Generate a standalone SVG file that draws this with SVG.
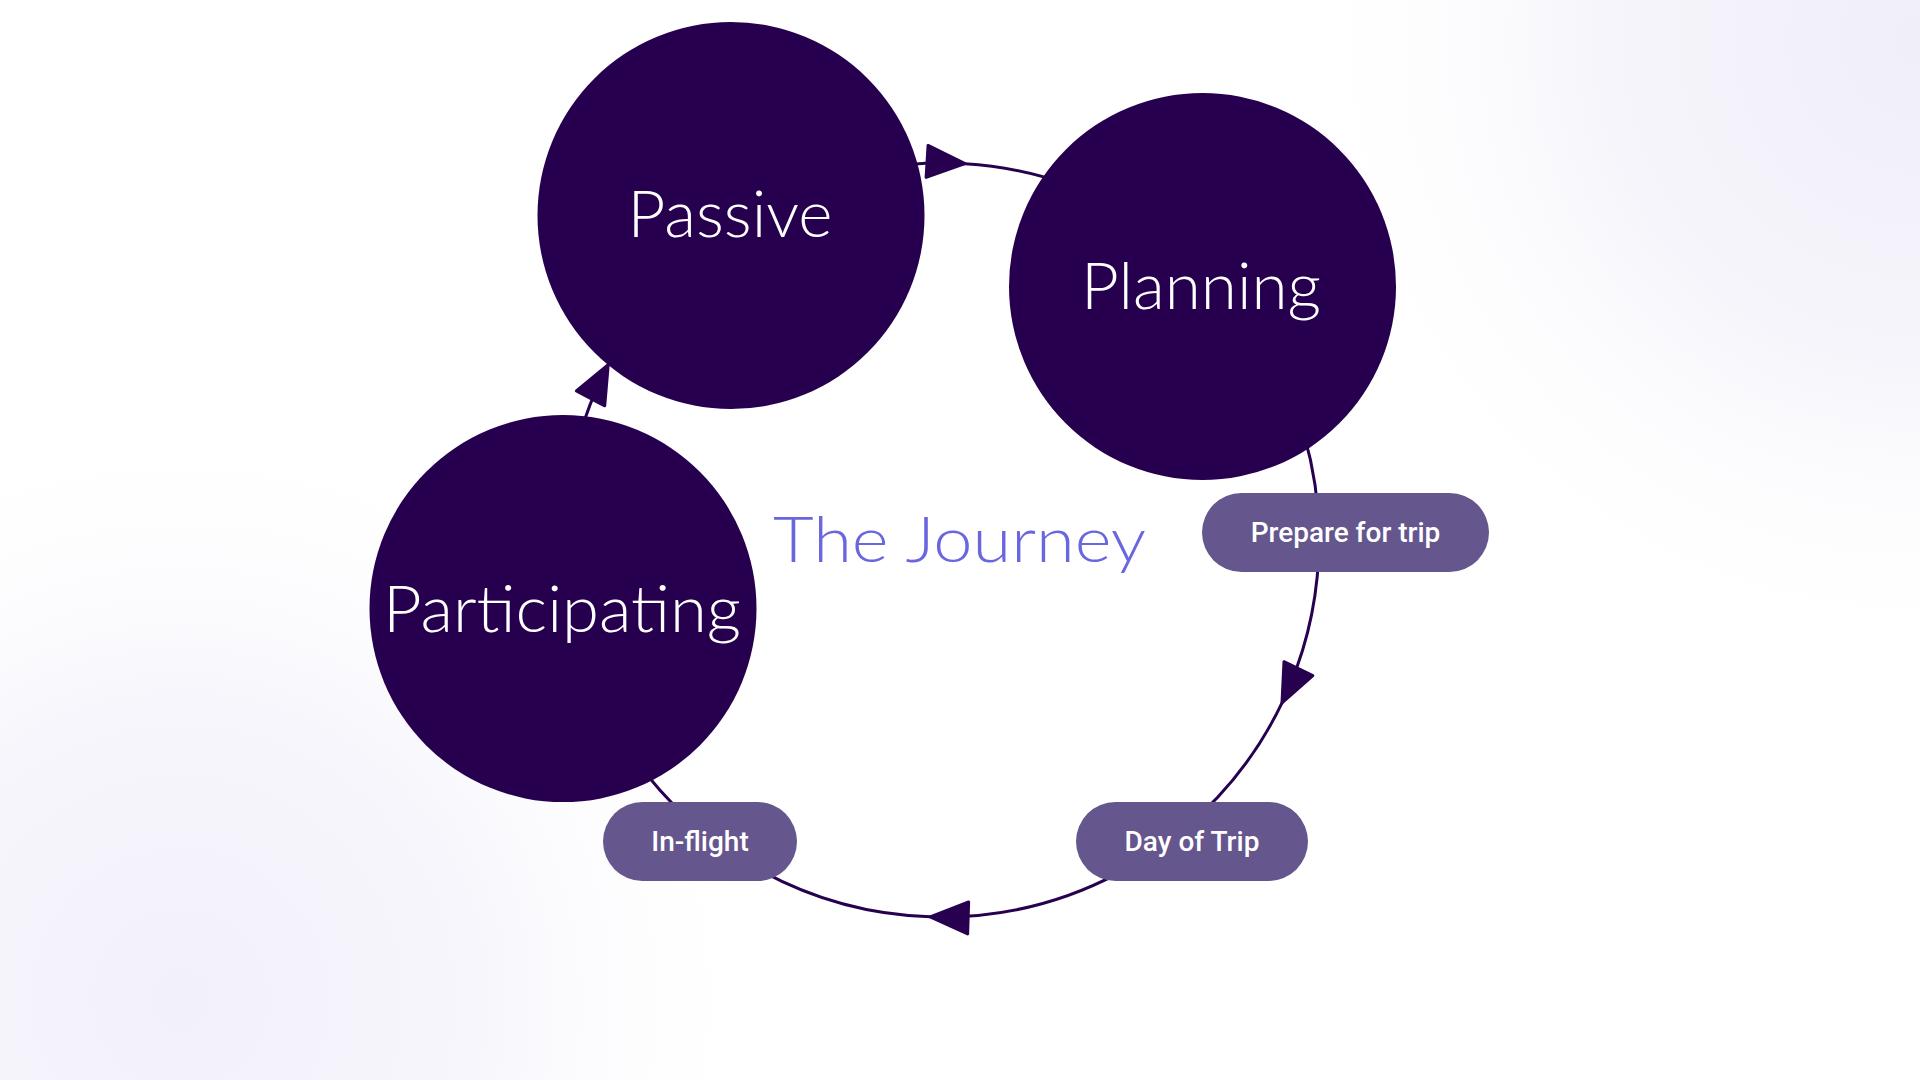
<svg xmlns="http://www.w3.org/2000/svg" width="1920" height="1080" viewBox="0 0 1920 1080">
  <defs>
    <radialGradient id="bgTR" cx="1920" cy="40" r="640" gradientUnits="userSpaceOnUse">
      <stop offset="0" stop-color="#f0eef9"/>
      <stop offset="0.5" stop-color="#f6f5fb"/>
      <stop offset="1" stop-color="#ffffff" stop-opacity="0"/>
    </radialGradient>
    <radialGradient id="bgBL" cx="180" cy="1000" r="600" gradientUnits="userSpaceOnUse">
      <stop offset="0" stop-color="#f2f0fa"/>
      <stop offset="0.5" stop-color="#f7f6fc"/>
      <stop offset="1" stop-color="#ffffff" stop-opacity="0"/>
    </radialGradient>
    <marker id="arrow" markerUnits="userSpaceOnUse" viewBox="0 0 42 36" refX="40" refY="18" markerWidth="42" markerHeight="36" orient="auto">
      <path d="M2,2 L40,18 L2,34 Z" fill="#27004f" stroke="#27004f" stroke-width="3" stroke-linejoin="round"/>
    </marker>
    <style>
      .circle { fill: #26004e; }
      .pill { fill: #65568d; }
      .big { font-family: Lato, Inter, "Noto Sans", sans-serif; font-weight: 300; font-size: 66px; fill: #ffffff; text-anchor: middle; }
      .lbl { font-family: Roboto, "Noto Sans", sans-serif; font-weight: 500; font-size: 28px; fill: #ffffff; text-anchor: middle; }
      .title { font-family: Lato, Inter, "Noto Sans", sans-serif; font-weight: 300; font-size: 64px; fill: #6a67de; }
      .edge { fill: none; stroke: #27004f; stroke-width: 3; }
    </style>
  </defs>

  <rect x="0" y="0" width="1920" height="1080" fill="#ffffff"/>
  <rect x="0" y="0" width="1920" height="1080" fill="url(#bgTR)"/>
  <rect x="0" y="0" width="1920" height="1080" fill="url(#bgBL)"/>

  <g id="connectors">
    <path class="edge" d="M876.53,168.73 A377,377 0 0 1 965.02,163.70" marker-end="url(#arrow)"/>
    <path class="edge" d="M965.02,163.70 A377,377 0 0 1 1070.94,185.74"/>
    <path class="edge" d="M1296.26,411.06 A377,377 0 0 1 1282.0,702.87" marker-end="url(#arrow)"/>
    <path class="edge" d="M1282.0,702.87 A377,377 0 0 1 1184.33,828.80"/>
    <path class="edge" d="M1118.99,872.87 A377,377 0 0 1 930.16,916.81" marker-end="url(#arrow)"/>
    <path class="edge" d="M930.16,916.81 A377,377 0 0 1 753.5,866.49"/>
    <path class="edge" d="M684.89,815.72 A377,377 0 0 1 615.51,728.5"/>
    <path class="edge" d="M570.73,474.53 A377,377 0 0 1 608.21,364.76" marker-end="url(#arrow)"/>
  </g>

  <g id="node-passive">
    <circle class="circle" cx="731" cy="215.5" r="193.5"/>
    <text class="big" x="730" y="237" textLength="205" lengthAdjust="spacingAndGlyphs">Passive</text>
  </g>
  <g id="node-planning">
    <circle class="circle" cx="1202.5" cy="286.5" r="193.5"/>
    <text class="big" x="1201" y="309" textLength="240" lengthAdjust="spacingAndGlyphs">Planning</text>
  </g>
  <g id="node-participating">
    <circle class="circle" cx="563" cy="608.6" r="193.5"/>
    <text class="big" x="562" y="632" textLength="358" lengthAdjust="spacingAndGlyphs">Participating</text>
  </g>

  <g id="label-prepare">
    <rect class="pill" x="1202" y="493" width="287" height="79" rx="39.5"/>
    <text class="lbl" x="1345.5" y="542">Prepare for trip</text>
  </g>
  <g id="label-dayoftrip">
    <rect class="pill" x="1076" y="802" width="232" height="79" rx="39.5"/>
    <text class="lbl" x="1192" y="851">Day of Trip</text>
  </g>
  <g id="label-inflight">
    <rect class="pill" x="603" y="802" width="194" height="79" rx="39.5"/>
    <text class="lbl" x="700" y="851">In-flight</text>
  </g>

  <g id="title">
    <text class="title" x="773" y="561.5" textLength="373" lengthAdjust="spacingAndGlyphs">The Journey</text>
  </g>
</svg>
